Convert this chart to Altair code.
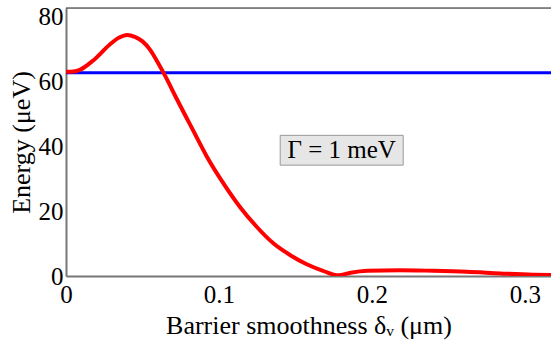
import altair as alt
import pandas as pd

# red curve: energy vs barrier smoothness
x_vals = [0.0, 0.005, 0.009, 0.018, 0.029, 0.034, 0.040, 0.045, 0.050, 0.055, 0.060,
          0.065, 0.072, 0.083, 0.092, 0.103, 0.1137, 0.1246, 0.1355, 0.1464, 0.157,
          0.168, 0.178, 0.186, 0.197, 0.218, 0.240, 0.262, 0.284, 0.305, 0.317]
e_vals = [63.0, 63.1, 63.6, 66.6, 71.6, 73.4, 74.4, 73.8, 72.4, 69.8, 65.9,
          61.6, 55.0, 45.0, 36.9, 28.5, 21.3, 15.2, 10.1, 6.5, 3.7,
          1.6, 0.2, 1.0, 1.6, 1.8, 1.6, 1.3, 0.8, 0.4, 0.3]
blue_level = [62.7]
box_x = [0.140, 0.2204]
box_y = [34.2, 43.4]
box_label = ["Γ = 1 meV"]

x_ticks = [0, 0.1, 0.2, 0.3]
y_ticks = [0, 20, 40, 60, 80]
x_domain = [0, 0.317]
y_domain = [0, 82.7]

FONT = "Liberation Serif"

curve = pd.DataFrame({"x": x_vals, "e": e_vals})
blue = pd.DataFrame({"e": blue_level})
box = pd.DataFrame({"x": [box_x[0]], "x2": [box_x[1]], "y": [box_y[0]], "y2": [box_y[1]],
                    "xc": [(box_x[0] + box_x[1]) / 2], "yc": [(box_y[0] + box_y[1]) / 2],
                    "label": box_label})

xscale = alt.Scale(domain=x_domain, nice=False, zero=False)
yscale = alt.Scale(domain=y_domain, nice=False)

axis_style = dict(grid=False, ticks=False, domainColor="#777777", domainWidth=2,
                  labelFont=FONT, labelFontSize=25, labelColor="black", labelFlush=False,
                  titleFont=FONT, titleFontSize=26, titleFontWeight="normal",
                  titleColor="black")
xaxis = alt.Axis(values=x_ticks, format="~g", title="Barrier smoothness δᵥ (μm)",
                 labelPadding=6, titlePadding=5, **axis_style)
yaxis = alt.Axis(values=y_ticks, title="Energy  (μeV)", labelPadding=3, titlePadding=4,
                 **axis_style)

red_line = alt.Chart(curve).mark_line(color="#ff0000", strokeWidth=4,
                                      interpolate="monotone", clip=True).encode(
    x=alt.X("x:Q", scale=xscale, axis=xaxis),
    y=alt.Y("e:Q", scale=yscale, axis=yaxis),
)

blue_rule = alt.Chart(blue).mark_rule(color="#0000ff", strokeWidth=3).encode(
    y=alt.Y("e:Q", scale=yscale, axis=yaxis)
)

top_rule = alt.Chart(blue).mark_rule(color="#222222", strokeWidth=1).encode(
    x=alt.value(0), x2=alt.value(485), y=alt.value(0)
)

rect = alt.Chart(box).mark_rect(fill="#e6e6e6", stroke="#999999", strokeWidth=1).encode(
    x=alt.X("x:Q", scale=xscale, axis=xaxis), x2="x2:Q",
    y=alt.Y("y:Q", scale=yscale, axis=yaxis), y2="y2:Q",
)
txt = alt.Chart(box).mark_text(font=FONT, fontSize=25, color="black",
                               align="center", baseline="middle").encode(
    x=alt.X("xc:Q", scale=xscale, axis=xaxis), y=alt.Y("yc:Q", scale=yscale, axis=yaxis),
    text="label:N"
)

chart = alt.layer(blue_rule, red_line, rect, txt, top_rule).properties(
    width=485, height=268,
    autosize=alt.AutoSizeParams(type="none"),
    padding={"left": 66, "top": 8, "right": 0, "bottom": 71},
).configure_view(stroke=None).configure(background="white", font=FONT).configure_axis(
    **axis_style
)

chart.save("out.html", embed_options={"renderer": "svg", "actions": False})
